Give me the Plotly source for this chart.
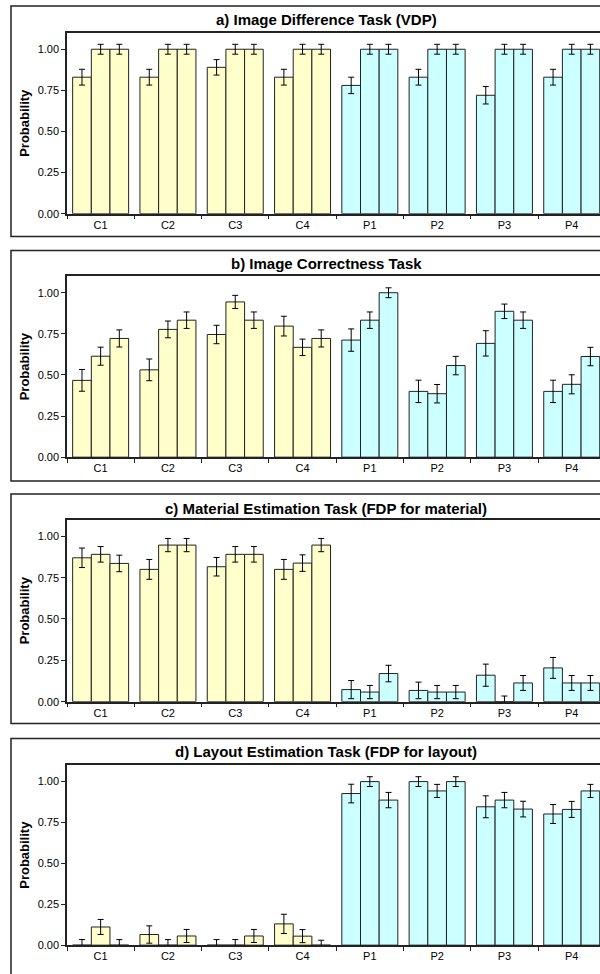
import plotly.graph_objects as go

groups = ["C1", "C2", "C3", "C4", "P1", "P2", "P3", "P4"]
titles = [
    "a) Image Difference Task (VDP)",
    "b) Image Correctness Task",
    "c) Material Estimation Task (FDP for material)",
    "d) Layout Estimation Task (FDP for layout)",
]
y_ticks = [0.0, 0.25, 0.5, 0.75, 1.0]
y_tick_labels = ["0.00", "0.25", "0.50", "0.75", "1.00"]

# panel a
a_s1 = [0.83, 0.83, 0.89, 0.83, 0.78, 0.83, 0.72, 0.83]
a_s2 = [1.0, 1.0, 1.0, 1.0, 1.0, 1.0, 1.0, 1.0]
a_s3 = [1.0, 1.0, 1.0, 1.0, 1.0, 1.0, 1.0, 1.0]
a_e1 = [0.048, 0.048, 0.047, 0.048, 0.05, 0.048, 0.053, 0.048]
a_e2 = [0.03, 0.03, 0.03, 0.03, 0.03, 0.03, 0.03, 0.03]
a_e3 = [0.03, 0.03, 0.03, 0.03, 0.03, 0.03, 0.03, 0.03]

# panel b
b_s1 = [0.467, 0.531, 0.746, 0.797, 0.712, 0.400, 0.692, 0.400]
b_s2 = [0.614, 0.777, 0.944, 0.668, 0.833, 0.386, 0.887, 0.443]
b_s3 = [0.722, 0.833, 0.833, 0.722, 1.0, 0.557, 0.833, 0.612]
b_e1 = [0.066, 0.066, 0.056, 0.06, 0.068, 0.068, 0.077, 0.068]
b_e2 = [0.055, 0.051, 0.04, 0.05, 0.05, 0.056, 0.044, 0.058]
b_e3 = [0.052, 0.05, 0.05, 0.052, 0.03, 0.056, 0.05, 0.056]

# panel c
c_s1 = [0.87, 0.80, 0.816, 0.80, 0.073, 0.068, 0.16, 0.204]
c_s2 = [0.891, 0.947, 0.891, 0.838, 0.058, 0.058, 0.0, 0.113]
c_s3 = [0.836, 0.947, 0.891, 0.947, 0.17, 0.058, 0.113, 0.113]
c_e1 = [0.059, 0.06, 0.056, 0.06, 0.055, 0.05, 0.067, 0.063]
c_e2 = [0.047, 0.04, 0.047, 0.05, 0.04, 0.04, 0.034, 0.045]
c_e3 = [0.05, 0.04, 0.047, 0.04, 0.05, 0.04, 0.045, 0.045]

# panel d
d_s1 = [0.0, 0.065, 0.0, 0.13, 0.927, 1.0, 0.846, 0.802]
d_s2 = [0.111, 0.0, 0.0, 0.055, 1.0, 0.943, 0.887, 0.83]
d_s3 = [0.0, 0.056, 0.056, 0.0, 0.887, 1.0, 0.832, 0.943]
d_e1 = [0.034, 0.053, 0.034, 0.059, 0.057, 0.03, 0.067, 0.058]
d_e2 = [0.046, 0.034, 0.034, 0.04, 0.03, 0.04, 0.047, 0.049]
d_e3 = [0.034, 0.04, 0.04, 0.03, 0.047, 0.03, 0.048, 0.04]

panels = [
    ([a_s1, a_s2, a_s3], [a_e1, a_e2, a_e3]),
    ([b_s1, b_s2, b_s3], [b_e1, b_e2, b_e3]),
    ([c_s1, c_s2, c_s3], [c_e1, c_e2, c_e3]),
    ([d_s1, d_s2, d_s3], [d_e1, d_e2, d_e3]),
]

YELLOW = "#FFFFCC"
CYAN = "#CCFFFF"
bar_colors = [YELLOW if g.startswith("C") else CYAN for g in groups]

W, H = 600, 974
FONT = "Liberation Sans, Arial, sans-serif"

# pixel geometry (from top)
plot_tops = [33, 278, 523, 770]
plot_bots = [215, 460, 706, 951]
box_tops = [6, 252, 497, 743]
box_bots = [238, 484, 728, 995]
title_ys = [20, 265, 512, 756]
plot_left = 67

fig = go.Figure()
layout = dict(
    width=W, height=H,
    margin=dict(l=0, r=0, t=0, b=0),
    paper_bgcolor="white", plot_bgcolor="white",
    showlegend=False,
    barmode="group", bargap=0.168, bargroupgap=0.0,
    font=dict(family=FONT, size=11, color="black"),
)
shapes = []
annotations = []

for i, (series, errs) in enumerate(panels):
    n = i + 1
    xa = "x" if n == 1 else f"x{n}"
    ya = "y" if n == 1 else f"y{n}"
    for s, e in zip(series, errs):
        fig.add_trace(go.Bar(
            x=groups, y=s, xaxis=xa, yaxis=ya,
            marker=dict(color=bar_colors, line=dict(color="#222222", width=1)),
            error_y=dict(type="data", array=e, visible=True, color="black",
                         thickness=1, width=3),
            hoverinfo="skip",
        ))
    d0 = 1 - plot_bots[i] / H
    d1 = 1 - plot_tops[i] / H
    xkey = "xaxis" if n == 1 else f"xaxis{n}"
    ykey = "yaxis" if n == 1 else f"yaxis{n}"
    layout[xkey] = dict(
        domain=[plot_left / W, 1.0], anchor=ya, type="category",
        range=[-0.5, 7.42], tickson="boundaries", ticks="outside", ticklen=4,
        tickcolor="#222222", showline=True, linecolor="#222222", linewidth=1.5,
        mirror=True, showgrid=False, zeroline=False,
        tickfont=dict(size=11, family=FONT), fixedrange=True,
    )
    layout[ykey] = dict(
        domain=[d0, d1], anchor=xa, range=[0, 1.1],
        tickvals=y_ticks, ticktext=y_tick_labels, ticks="outside", ticklen=4,
        tickcolor="#222222", showline=True, linecolor="#222222", linewidth=1.5,
        showgrid=False, zeroline=False, tickfont=dict(size=11, family=FONT),
        title=dict(text="<b>Probability</b>", font=dict(size=13, family=FONT), standoff=5),
        fixedrange=True,
    )
    shapes.append(dict(
        type="rect", xref="paper", yref="paper",
        x0=11 / W, x1=1.05, y0=1 - box_bots[i] / H, y1=1 - box_tops[i] / H,
        line=dict(color="#222222", width=1.5), fillcolor="rgba(0,0,0,0)",
    ))
    annotations.append(dict(
        text=f"<b>{titles[i]}</b>", xref="paper", yref="paper",
        x=326 / W, y=1 - title_ys[i] / H, xanchor="center", yanchor="middle",
        showarrow=False, font=dict(size=15, family=FONT, color="black"),
    ))

layout["shapes"] = shapes
layout["annotations"] = annotations
fig.update_layout(**layout)
fig.write_html(
    "out.html",
    config={"displayModeBar": False},
    post_script="document.body.style.margin='0px';document.body.style.overflow='hidden';",
)
